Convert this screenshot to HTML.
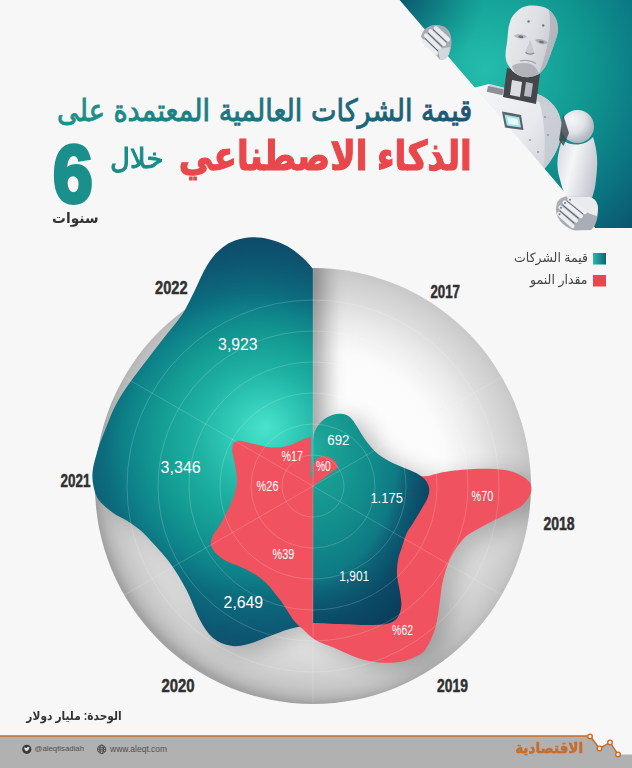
<!DOCTYPE html>
<html lang="ar">
<head>
<meta charset="utf-8">
<title>قيمة الشركات العالمية المعتمدة على الذكاء الاصطناعي</title>
<style>
html,body{margin:0;padding:0;}
body{width:632px;height:768px;overflow:hidden;background:#f7f7f7;position:relative;font-family:"Liberation Sans","DejaVu Sans",sans-serif;}
#g{position:absolute;left:0;top:0;width:632px;height:768px;display:block;}
.t{position:absolute;white-space:nowrap;line-height:1;direction:rtl;transform-origin:100% 0;}
.l{position:absolute;white-space:nowrap;line-height:1;direction:ltr;transform-origin:0 0;}
#t2{right:160px;top:135.7px;font-size:40.8px;font-weight:bold;color:#e8474b;-webkit-text-stroke:1.2px #e8474b;transform:scaleX(.84);}
#t3{right:468.2px;top:144.5px;font-size:28px;color:#1a8c88;-webkit-text-stroke:1px #1a8c88;transform:scaleX(.98);}
#t4{left:53px;top:132.5px;font-size:82px;font-weight:bold;color:#1a8f8c;-webkit-text-stroke:4px #1a8f8c;transform:scaleX(.87);}
#t5{right:534px;top:210px;font-size:15px;font-weight:bold;color:#333;transform:scaleX(.92);}
#lg1{right:44px;top:250.5px;font-size:13px;color:#444;transform:scaleX(.96);}
#lg2{right:44px;top:273.3px;font-size:13px;color:#444;transform:scaleX(.965);}
#unit{right:510px;top:710px;font-size:12px;font-weight:bold;color:#333;transform:scaleX(.885);}
#tw{left:34.5px;top:745px;font-size:7.8px;color:#505050;}
#web{left:110px;top:744.6px;font-size:8.5px;color:#505050;}
#logo{right:49px;top:740px;font-size:15px;font-weight:bold;color:#c66d2c;-webkit-text-stroke:.45px #c66d2c;transform:scaleX(.905);}
.yr{font-family:"Liberation Sans",sans-serif;font-weight:bold;fill:#303030;stroke:#303030;stroke-width:.5px;}
.v{font-family:"Liberation Sans",sans-serif;fill:#fff;}
.p{font-family:"Liberation Sans",sans-serif;fill:#fff;}
</style>
</head>
<body>
<svg id="g" width="632" height="768" viewBox="0 0 632 768">
<defs>
<radialGradient id="gTop" gradientUnits="userSpaceOnUse" cx="485" cy="70" r="235">
<stop offset="0" stop-color="#25bcad"/><stop offset=".2" stop-color="#1aad9f"/><stop offset=".45" stop-color="#109690"/><stop offset=".7" stop-color="#0b7682"/><stop offset="1" stop-color="#0a4a67"/>
</radialGradient>
<radialGradient id="gCorner" gradientUnits="userSpaceOnUse" cx="392" cy="-12" r="95">
<stop offset="0" stop-color="#073a5c" stop-opacity=".8"/><stop offset=".45" stop-color="#08506a" stop-opacity=".5"/><stop offset="1" stop-color="#0a6a78" stop-opacity="0"/>
</radialGradient>
<radialGradient id="gCirc" gradientUnits="userSpaceOnUse" cx="320" cy="478" r="226">
<stop offset="0" stop-color="#ffffff"/><stop offset=".56" stop-color="#fbfbfb"/><stop offset=".7" stop-color="#ebebeb"/><stop offset=".8" stop-color="#dadada"/><stop offset=".88" stop-color="#cfcfcf"/><stop offset=".93" stop-color="#c6c6c6"/><stop offset=".965" stop-color="#b9b9b9"/><stop offset="1" stop-color="#a2a2a2"/>
</radialGradient>
<filter id="fSh" x="-30%" y="-30%" width="160%" height="160%"><feGaussianBlur stdDeviation="11"/></filter>
<linearGradient id="gShadow" gradientUnits="userSpaceOnUse" x1="313" y1="0" x2="340" y2="0"><stop offset="0" stop-color="#000" stop-opacity=".14"/><stop offset=".5" stop-color="#000" stop-opacity=".05"/><stop offset="1" stop-color="#000" stop-opacity="0"/></linearGradient>
<path id="tealL" d="M313.0,268.8 C311.2,266.9 306.8,261.2 302.5,257.5 C298.2,253.8 292.9,249.3 287.5,246.3 C282.1,243.3 275.8,241.0 270.0,239.5 C264.2,238.0 258.3,237.1 252.5,237.3 C246.7,237.5 240.0,238.8 235.0,240.5 C230.0,242.2 226.2,244.7 222.5,247.5 C218.8,250.3 215.6,253.5 212.5,257.5 C209.4,261.5 206.7,265.9 203.8,271.3 C200.9,276.7 197.7,284.4 195.0,290.0 C192.3,295.6 190.0,300.4 187.5,305.0 C185.0,309.6 186.1,309.2 180.0,317.5 C173.9,325.8 161.1,341.1 151.0,354.5 C140.9,367.9 127.5,384.8 119.6,398.0 C111.7,411.2 107.6,424.1 103.7,433.6 C99.8,443.1 98.2,448.5 96.3,455.0 C94.4,461.5 92.9,467.1 92.5,472.5 C92.1,477.9 92.8,482.9 93.8,487.5 C94.8,492.1 95.7,495.8 98.8,500.0 C101.9,504.2 107.7,509.0 112.5,512.5 C117.3,516.0 122.9,518.1 127.5,521.0 C132.1,523.9 136.2,526.8 140.0,530.0 C143.8,533.2 145.0,534.5 150.0,540.0 C155.0,545.5 163.9,554.7 170.0,563.0 C176.1,571.3 181.5,580.5 186.5,590.0 C191.5,599.5 195.4,611.7 199.8,619.7 C204.2,627.7 208.0,633.7 213.0,638.0 C218.0,642.3 224.1,644.5 229.7,645.6 C235.2,646.7 239.7,646.2 246.3,644.6 C252.9,643.0 262.3,638.9 269.5,636.3 C276.7,633.7 282.2,631.0 289.5,629.0 C296.8,627.0 309.1,625.3 313.0,624.6 Z"/>
<path id="red" d="M311.0,436.5 C309.6,437.0 306.5,438.1 302.5,439.7 C298.5,441.3 292.1,444.7 286.9,446.0 C281.7,447.3 277.0,447.9 271.3,447.5 C265.6,447.1 258.2,444.9 252.5,443.8 C246.8,442.7 240.3,440.1 236.9,441.0 C233.5,441.9 232.5,444.8 232.2,449.0 C231.9,453.2 234.5,460.8 235.3,466.3 C236.1,471.8 237.4,476.2 236.9,481.9 C236.4,487.6 234.8,493.8 232.2,500.6 C229.6,507.4 224.7,516.3 221.3,522.5 C217.9,528.7 213.4,533.6 211.9,538.0 C210.4,542.4 210.4,545.3 212.5,549.0 C214.6,552.7 218.8,556.6 224.4,560.0 C230.0,563.4 239.5,565.8 246.3,569.4 C253.1,573.0 259.3,576.7 265.0,581.9 C270.7,587.1 275.9,594.4 280.6,600.6 C285.3,606.9 289.4,614.7 293.0,619.4 C296.6,624.1 298.8,625.4 302.5,628.8 C306.2,632.2 309.6,636.5 315.0,639.7 C320.4,642.9 327.8,645.0 334.8,648.0 C341.8,651.0 349.6,655.3 357.0,657.7 C364.4,660.1 371.7,661.7 379.0,662.4 C386.3,663.1 394.2,663.1 401.0,661.8 C407.8,660.5 415.6,657.1 420.0,654.5 C424.4,651.9 425.2,649.7 427.5,646.0 C429.8,642.3 432.1,637.2 433.8,632.5 C435.5,627.8 436.5,622.9 437.5,617.5 C438.5,612.1 439.2,605.8 440.0,600.0 C440.8,594.2 441.2,588.3 442.5,582.5 C443.8,576.7 445.4,570.4 447.5,565.0 C449.6,559.6 452.5,554.2 455.0,550.0 C457.5,545.8 460.0,542.8 462.5,540.0 C465.0,537.2 465.4,536.4 470.0,533.5 C474.6,530.6 483.3,526.0 490.0,522.5 C496.7,519.0 504.6,515.4 510.0,512.5 C515.4,509.6 519.2,507.9 522.5,505.0 C525.8,502.1 528.5,497.9 530.0,495.0 C531.5,492.1 531.5,489.8 531.3,487.5 C531.1,485.2 530.7,483.4 528.8,481.3 C526.9,479.2 524.0,476.9 520.0,475.0 C516.0,473.1 512.1,471.0 505.0,470.0 C497.9,469.0 487.1,468.6 477.5,468.8 C467.9,469.1 455.8,470.3 447.5,471.5 C439.2,472.7 431.2,475.2 428.0,476.0 L400,478 L311,478 Z"/>
<path id="tealR" d="M313.0,441.0 C313.4,439.2 313.6,433.8 315.2,430.4 C316.8,426.9 319.8,422.9 322.8,420.3 C325.8,417.7 329.6,415.8 333.0,414.7 C336.4,413.6 340.1,413.5 343.0,414.0 C345.9,414.5 348.3,415.6 350.6,417.7 C352.9,419.8 354.5,422.8 357.0,426.6 C359.5,430.4 362.2,435.9 365.8,440.5 C369.4,445.1 373.4,450.4 378.5,454.4 C383.6,458.4 390.3,461.7 396.2,464.6 C402.1,467.5 409.4,469.7 414.0,472.0 C418.6,474.3 421.5,475.9 424.0,478.5 C426.5,481.1 428.4,484.1 429.0,487.3 C429.6,490.5 429.1,493.9 427.8,497.5 C426.6,501.1 423.8,505.0 421.5,509.0 C419.2,513.0 416.5,517.3 414.0,521.5 C411.5,525.7 408.3,529.8 406.3,534.0 C404.3,538.2 403.4,542.7 402.0,547.0 C400.6,551.3 398.8,555.3 398.0,560.0 C397.2,564.7 396.7,569.6 397.0,575.0 C397.3,580.4 399.3,587.3 400.0,592.5 C400.7,597.7 401.7,601.8 401.3,606.0 C400.9,610.2 399.8,614.5 397.5,617.5 C395.2,620.5 392.5,622.5 387.5,623.8 C382.5,625.0 375.8,625.0 367.5,625.0 C359.2,625.0 347.1,624.3 338.0,624.0 C328.9,623.7 317.2,623.2 313.0,623.0 Z"/>
<path id="blob" d="M313.0,465.0 C313.5,464.1 314.7,460.9 316.0,459.5 C317.3,458.1 319.3,457.1 321.0,456.6 C322.7,456.1 324.3,456.1 326.0,456.3 C327.7,456.5 329.4,457.1 331.0,458.0 C332.6,458.9 334.3,460.4 335.5,462.0 C336.7,463.6 337.8,466.6 338.3,467.5 L313,486 Z"/>
<linearGradient id="gT1" gradientUnits="userSpaceOnUse" x1="0" y1="0" x2="-460" y2="0"><stop offset="0" stop-color="#1b5672"/><stop offset=".45" stop-color="#1b6f7d"/><stop offset="1" stop-color="#1a9288"/></linearGradient>
<clipPath id="cTop"><polygon points="398.700,0 632,0 632,228 594.500,228"/></clipPath>
<clipPath id="cDisc"><circle cx="313" cy="486" r="218"/></clipPath>
<radialGradient id="gTeal" gradientUnits="userSpaceOnUse" cx="250" cy="455" fx="266" fy="427" r="240">
<stop offset="0" stop-color="#4ae4cd"/><stop offset=".12" stop-color="#33cdb9"/><stop offset=".28" stop-color="#1eb0a2"/><stop offset=".42" stop-color="#149c93"/><stop offset=".55" stop-color="#0e8289"/><stop offset=".635" stop-color="#0c6c7d"/><stop offset=".765" stop-color="#0d5873"/><stop offset=".9" stop-color="#0e4a69"/><stop offset="1" stop-color="#103f60"/>
</radialGradient>
<radialGradient id="gTealR" gradientUnits="userSpaceOnUse" cx="0" cy="0" r="210" gradientTransform="translate(313,450) scale(.667,1)">
<stop offset="0" stop-color="#22ad9f"/><stop offset=".12" stop-color="#1aa195"/><stop offset=".4" stop-color="#128d8c"/><stop offset=".6" stop-color="#0f7a84"/><stop offset=".68" stop-color="#0d6176"/><stop offset=".82" stop-color="#0b4a66"/><stop offset="1" stop-color="#0a3c5a"/>
</radialGradient>
<linearGradient id="gLeg" x1="0" y1="0" x2="1" y2="0"><stop offset="0" stop-color="#2bb9aa"/><stop offset="1" stop-color="#0d6275"/></linearGradient>
<linearGradient id="gBody" gradientUnits="userSpaceOnUse" x1="480" y1="90" x2="562" y2="150"><stop offset="0" stop-color="#f4f5f7"/><stop offset=".6" stop-color="#e9eaee"/><stop offset="1" stop-color="#cfd2d9"/></linearGradient>
<linearGradient id="gHead" gradientUnits="userSpaceOnUse" x1="507" y1="30" x2="558" y2="45"><stop offset="0" stop-color="#e9eaed"/><stop offset=".5" stop-color="#dedfe4"/><stop offset=".8" stop-color="#cfd1d7"/><stop offset="1" stop-color="#b7bac2"/></linearGradient>
<radialGradient id="gSh" gradientUnits="userSpaceOnUse" cx="572" cy="120" r="22"><stop offset="0" stop-color="#f6f7f9"/><stop offset=".6" stop-color="#dfe1e6"/><stop offset="1" stop-color="#b4b8c1"/></radialGradient>
<linearGradient id="gArm" gradientUnits="userSpaceOnUse" x1="558" y1="160" x2="598" y2="170"><stop offset="0" stop-color="#dcdfe4"/><stop offset=".35" stop-color="#f5f6f8"/><stop offset="1" stop-color="#c2c6ce"/></linearGradient>
<linearGradient id="gFist" x1="0" y1="0" x2="1" y2="1"><stop offset="0" stop-color="#eef0f3"/><stop offset="1" stop-color="#b9bdc5"/></linearGradient>
<clipPath id="cR"><rect x="313" y="0" width="319" height="768"/></clipPath>
<clipPath id="cL"><rect x="0" y="0" width="313" height="768"/></clipPath>
</defs>
<!-- top right teal panel -->
<polygon points="398.700,0 632,0 632,228 594.500,228" fill="url(#gTop)"/>
<polygon points="398.700,0 632,0 632,228 594.500,228" fill="url(#gCorner)"/>
<!-- robot -->
<g id="robot">
<!-- torso -->
<path clip-path="url(#cTop)" d="M465,90 L489,84 L505,88 L537,94 C545,96 553,103 557.5,111 C561,118 562,126 561,134 C560,143 557,151 553,157 C550,162 547,166 541,173 Z" fill="url(#gBody)"/>
<path d="M537,94 C545,96 553,103 557.5,111 C561,118 562,126 561,134 C560,143 557,151 553,157 C550,162 547,166 543.500,169.500 C546,150 546,120 537,94 Z" fill="#c3c7cf" opacity=".75"/>
<path d="M489,84 L505,88 L537,94 C542,95.500 547,98.500 551,103 L548,106 C540,101 520,97 489,90 Z" fill="#c9ccd3" opacity=".8"/>
<line x1="398.700" y1="0" x2="594.500" y2="228" stroke="#fafafa" stroke-width="1.300"/>
<!-- neck -->
<path d="M507,68 L540,74 L536,104 L503,97 Z" fill="#44464c"/>
<path d="M512,80 L522,82 L520,97 L510,95 Z" fill="#dcdde2"/>
<path d="M526,82 L533,83.500 L531,97 L524,96 Z" fill="#b9bbc2"/>
<rect x="488" y="86" width="16" height="6" fill="#8d9096" transform="rotate(12 488 86)"/>
<!-- head -->
<path d="M533,5.500 C526,5 521,7.500 518,10.500 C513,15 511,18 510.400,21 C508,27 508,33 507.500,38 C507,45 505,51 505.600,57 C506,61 507,63.500 508.500,65.500 C511,70 514,73 518,75 C522,77 526,77.500 529.500,77 C533,76.500 536,75.500 539,74 C542,71.500 545,68 546.500,64.600 C549,59 551,53 553,47.500 C555,42 557,37 557.800,32.300 C558.500,27 557.500,23 556,19 C554,15 552,12 548.500,9.500 C544,6.500 539,5.500 533,5.500 Z" fill="url(#gHead)"/>
<path d="M546.500,64.600 C549,59 551,53 553,47.500 C555,42 557,37 557.800,32.300 C558.500,27 557.500,23 556,19 C554,15 552,12 548.500,9.500 C552,22 550,44 539,74 C542,71.500 545,68 546.500,64.600 Z" fill="#aeb2bb" opacity=".8"/>
<path d="M512,66 C516,63 524,62 531,64 C535,66 537,69 539,74 C536,75.500 533,76.500 529.500,77 C526,77.500 522,77 518,75 C515,73 513,70 512,66 Z" fill="#a9abb2" opacity=".85"/>
<path d="M514,35.500 C517,33.500 523,33.800 527,36.500 C524,39.500 517,39.500 514,35.500 Z" fill="#b5b8bf"/>
<path d="M535,40 C538,38 544,39 548,42.500 C545,45.500 538,44.500 535,40 Z" fill="#a9acb4"/>
<ellipse cx="520.800" cy="36.800" rx="2.600" ry="1.200" fill="#6f747c" transform="rotate(8 520.800 36.800)"/>
<ellipse cx="541.500" cy="42" rx="2.600" ry="1.200" fill="#6f747c" transform="rotate(12 541.500 42)"/>
<path d="M530,40 C529,45 526,49 525.500,52 C527,54.500 532,55 534,52.500 C533,48 532,44 530,40 Z" fill="#c4c6cc" opacity=".8"/>
<path d="M525.500,52.300 C527.500,54.600 531.800,55 534,52.700" stroke="#8b8f97" stroke-width="1.300" fill="none"/>
<path d="M520,61 C524,59.500 531,60.500 536,63.500" stroke="#a3a6ad" stroke-width="1.300" fill="none"/>
<circle cx="528.600" cy="21.500" r="1.200" fill="#70747c"/><circle cx="543.200" cy="25.500" r="1.200" fill="#70747c"/>
<!-- chest light -->
<path d="M502,111.500 L521,115 L523.500,130 L505,127.500 Z" fill="#59626b"/>
<path d="M504.500,114.500 L519.300,117.200 L521,127.500 L506.800,125.600 Z" fill="#a9dfe8"/>
<path d="M507,117 L517.500,119 L518.700,125.300 L508.700,124 Z" fill="#e4fbfd"/>
<circle cx="545" cy="117" r=".9" fill="#8a8f97"/><circle cx="548" cy="135" r=".9" fill="#8a8f97"/><circle cx="530" cy="140" r=".9" fill="#8a8f97"/><circle cx="538" cy="152" r=".9" fill="#8a8f97"/>
<!-- shoulder + arm -->
<circle cx="577.500" cy="126.500" r="16.500" fill="url(#gSh)"/>
<path d="M562,140 C560,147 558,153 557.500,160 C557,167 558,173 560,179.500 C561.500,186 563.500,192 566,198 L592,198 C594,192 595.500,186 596,179.500 C597,172 597.500,164 597,157 C596.500,150 595,143 593,137 C585,146 572,147 562,140 Z" fill="url(#gArm)"/>
<path d="M563,114.500 L569,133 L563.500,146 L559,140 Z" fill="#3e4248" opacity=".8"/>
<!-- right fist -->
<path d="M557,203 C559,198 565,195.500 572,196 L589,197 C595,198 598,203 598,210 C598,218 596,226 591,230 L575,230.500 C566,228 559,222 556.500,214 C555.500,210 556,206 557,203 Z" fill="#a9aeb6"/>
<path d="M566,196 L590,197 C595,198.500 598,203 598,209 L597,216 C588,214 574,206 566,196 Z" fill="#e9ebee"/>
<g stroke="#eceef1" stroke-width="4.200" stroke-linecap="round" fill="none"><path d="M560.500,207.500 L576,220.500"/><path d="M564.500,202.500 L581,216"/><path d="M559,214 L572.500,226"/><path d="M569.500,199.500 L585,212"/></g>
<g stroke="#59626c" stroke-width="1" fill="none"><path d="M562.500,205 L578.500,218.300"/><path d="M567,201 L583,214"/><path d="M559.800,210.800 L574.300,223.300"/></g>
<g fill="#6c757f"><circle cx="561" cy="207.800" r="1"/><circle cx="565" cy="203" r="1"/><circle cx="559.500" cy="214.300" r="1"/><circle cx="570" cy="199.800" r="1"/></g>
<!-- left fist -->
<path d="M421,37 C422,30 428,25.500 435,25 C441,24.500 447,27 449.500,32 C452,38 452,46 450,52 C448,57 444,60.500 440,60 Z" fill="#a7acb4"/>
<g stroke="#e9ebee" stroke-width="4.300" stroke-linecap="round" fill="none"><path d="M426,35.500 L439.500,48.500"/><path d="M430.500,31.200 L444,44"/><path d="M436,28.300 L448,39.500"/><path d="M424,41.500 L436,53"/></g>
<g stroke="#59626c" stroke-width="1" fill="none"><path d="M428,33 L442,46.500"/><path d="M433,29.500 L446.500,42"/><path d="M424.800,38.300 L438,51"/></g>
<path d="M438,49 L450,47 L449,54 C447,58 444,60.500 440,60 Z" fill="#d4d7dc"/>
</g>
<!-- grey disc -->
<circle cx="313" cy="486" r="218" fill="url(#gCirc)"/>
<g clip-path="url(#cDisc)"><g filter="url(#fSh)" opacity=".24" transform="translate(12,5)"><use href="#tealL" fill="#000"/><use href="#red" fill="#000"/><use href="#tealR" fill="#000"/></g></g>
<rect x="313" y="268" width="30" height="175" fill="url(#gShadow)" clip-path="url(#cDisc)"/>
<!-- teal left -->
<use href="#tealL" fill="url(#gTeal)"/>
<!-- red -->
<use href="#red" fill="#f0535f"/>
<!-- teal right -->
<use href="#tealR" fill="url(#gTealR)"/>
<!-- red 0% blob -->
<use href="#blob" fill="#f0535f"/>
<!-- grid -->
<g fill="none" stroke="#fff" stroke-opacity=".24" stroke-width=".75">
<circle cx="313" cy="486" r="31"/><circle cx="313" cy="486" r="62"/><circle cx="313" cy="486" r="93"/><circle cx="313" cy="486" r="124"/><circle cx="313" cy="486" r="155"/><circle cx="313" cy="486" r="186"/>
<line x1="313" y1="268" x2="313" y2="704"/>
<line x1="124.200" y1="377" x2="501.800" y2="595"/>
<line x1="124.200" y1="595" x2="501.800" y2="377"/>
</g>
<!-- chart labels -->
<g id="labels">
<text id="y17" class="yr" transform="translate(430.4,297.8) scale(0.739,1)" style="font-size:18.0px">2017</text>
<text id="y18" class="yr" transform="translate(543.4,529.8) scale(0.779,1)" style="font-size:18.0px">2018</text>
<text id="y19" class="yr" transform="translate(437.1,692.2) scale(0.77,1)" style="font-size:18.0px">2019</text>
<text id="y20" class="yr" transform="translate(161.4,691.8) scale(0.827,1)" style="font-size:18.0px">2020</text>
<text id="y21" class="yr" transform="translate(60.4,487.0) scale(0.749,1)" style="font-size:18.0px">2021</text>
<text id="y22" class="yr" transform="translate(155.1,294.0) scale(0.811,1)" style="font-size:18.0px">2022</text>
<text id="v22" class="v" transform="translate(218.1,350.2) scale(0.909,1)" style="font-size:17.4px">3,923</text>
<text id="v21" class="v" transform="translate(160.6,473.4) scale(0.922,1)" style="font-size:17.4px">3,346</text>
<text id="v20" class="v" transform="translate(223.6,607.6) scale(0.91,1)" style="font-size:17.4px">2,649</text>
<text id="v19" class="v" transform="translate(339.2,581.4) scale(0.812,1)" style="font-size:14.8px">1,901</text>
<text id="v18" class="v" transform="translate(370.4,503.0) scale(0.878,1)" style="font-size:14.8px">1.175</text>
<text id="v17" class="v" transform="translate(327.3,445.2) scale(0.895,1)" style="font-size:14.8px">692</text>
<text id="p22" class="p" transform="translate(281.6,461.4) scale(0.749,1)" style="font-size:14.3px">%17</text>
<text id="p21" class="p" transform="translate(256.6,491.0) scale(0.767,1)" style="font-size:14.3px">%26</text>
<text id="p20" class="p" transform="translate(272.6,559.0) scale(0.759,1)" style="font-size:14.3px">%39</text>
<text id="p19" class="p" transform="translate(392.1,635.0) scale(0.731,1)" style="font-size:14.3px">%62</text>
<text id="p18" class="p" transform="translate(471.6,500.8) scale(0.76,1)" style="font-size:14.3px">%70</text>
<text id="p17" class="p" transform="translate(315.9,471.0) scale(0.718,1)" style="font-size:14.3px">%0</text>
</g>
<text id="t1" direction="rtl" text-anchor="start" transform="translate(472.300,120.500) scale(.888,1)" style="font-family:'DejaVu Sans',sans-serif;font-size:30.5px" fill="url(#gT1)" stroke="url(#gT1)" stroke-width=".9">قيمة الشركات العالمية المعتمدة على</text>
<!-- legend squares -->
<rect x="593" y="253" width="13" height="11.500" fill="url(#gLeg)"/>
<rect x="593" y="275" width="13" height="11.500" fill="#e8474b"/>
<!-- footer -->
<path d="M0,736 L590,736 L599.500,748.400 L610,742.400 L618,754.400 L632,754.400 L632,768 L0,768 Z" fill="#b1b1b1"/>
<path d="M0,736 L590,736 L599.500,748.400 L610,742.400 L618,754.400" fill="none" stroke="#c66d2c" stroke-width="1.500"/>
<g fill="#ececec" stroke="#c66d2c" stroke-width="1.400">
<circle cx="590" cy="736.400" r="2.300"/><circle cx="599.500" cy="748.400" r="2.300"/><circle cx="610" cy="742.400" r="2.300"/><circle cx="618" cy="754.400" r="2.300"/>
</g>
<!-- twitter + globe icons -->
<circle cx="26.800" cy="749.300" r="4.600" fill="#3b3b3b"/>
<path d="M24.100,750.900 C25.900,751.500 28.700,750.900 29.100,748.200 L29.700,747.600 L29.000,747.700 L29.500,747.000 L28.700,747.300 C28.100,746.700 27.000,746.900 26.900,748.000 C25.900,748.000 25.000,747.500 24.400,746.900 C24.100,747.600 24.300,748.300 24.800,748.700 L24.300,748.600 C24.300,749.300 24.800,749.800 25.400,750.000 L24.900,750.050 C25.100,750.500 25.500,750.700 26.000,750.750 C25.500,751.000 24.800,751.050 24.100,750.900 Z" fill="#e4e4e4"/>
<g fill="none" stroke="#3b3b3b" stroke-width=".8">
<circle cx="101.700" cy="749.300" r="4.200"/>
<ellipse cx="101.700" cy="749.300" rx="1.900" ry="4.200"/>
<line x1="97.500" y1="749.300" x2="105.900" y2="749.300"/>
<path d="M98.300,747.100 C100.400,747.900 103,747.900 105.100,747.100"/><path d="M98.300,751.500 C100.400,750.700 103,750.700 105.100,751.500"/>
</g>
</svg>
<div class="t" id="t2">الذكاء الاصطناعي</div>
<div class="t" id="t3">خلال</div>
<div class="l" id="t4">6</div>
<div class="t" id="t5">سنوات</div>
<div class="t" id="lg1">قيمة الشركات</div>
<div class="t" id="lg2">مقدار النمو</div>
<div class="t" id="unit">الوحدة: مليار دولار</div>
<div class="l" id="tw">@aleqtisadiah</div>
<div class="l" id="web">www.aleqt.com</div>
<div class="t" id="logo">الاقتصادية</div>
</body>
</html>
